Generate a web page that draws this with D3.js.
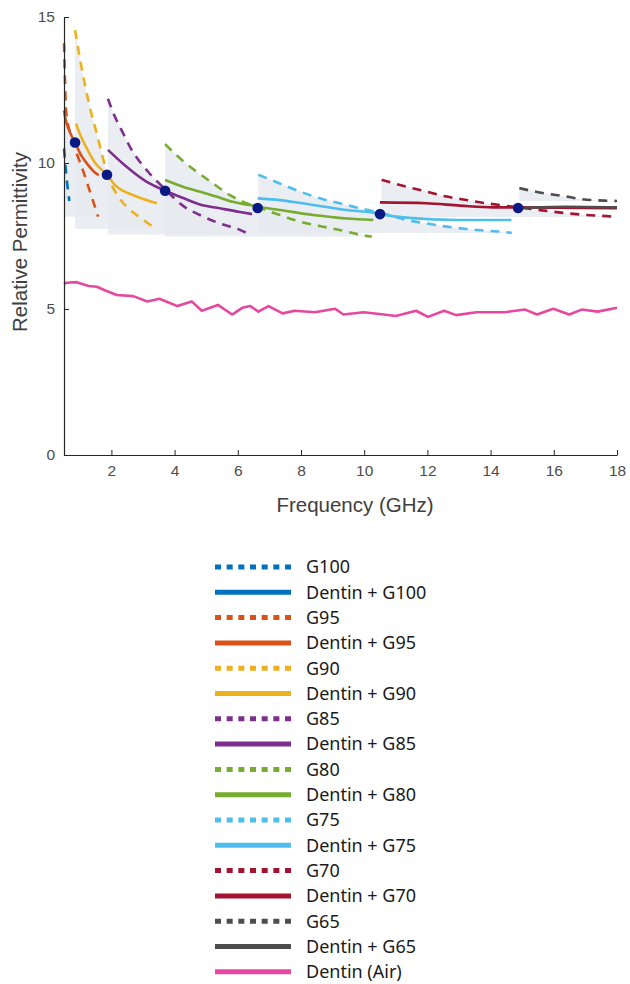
<!DOCTYPE html>
<html>
<head>
<meta charset="utf-8">
<script src="https://cdn.jsdelivr.net/npm/d3@7"></script>
<style>
  body { margin: 0; background: #fff; }
  svg { display: block; }
</style>
</head>
<body>
<svg id="chart" width="630" height="984"></svg>
<script>
// axis ticks
const xTicks = [2, 4, 6, 8, 10, 12, 14, 16, 18];
const yTicks = [0, 5, 10, 15];

// glass series: [GHz, permittivity]
const glassNames = ["G100", "G95", "G90", "G85", "G80", "G75", "G70", "G65"];
const glassColors = ["#0072BD", "#D95319", "#EDB120", "#7E2F8E", "#77AC30", "#4DBEEE", "#A2142F", "#4d4d4d"];

const g100Glass = [[0.5, 10.5], [0.55, 9.85], [0.6, 9.3], [0.67, 8.7]];
const g100Dentin = [];
const g95Glass = [[0.5, 14.1], [0.53, 12.9], [0.56, 11.85], [0.7, 11.0], [0.9, 10.33], [1.06, 9.87], [1.27, 9.19], [1.48, 8.5], [1.58, 8.16]];
const g95Dentin = [[0.5, 11.8], [0.55, 11.5], [0.65, 11.15], [0.85, 10.7], [1.05, 10.25], [1.25, 9.95], [1.45, 9.7], [1.6, 9.58]];
const g90Glass = [[0.85, 14.55], [1.0, 13.6], [1.16, 12.7], [1.32, 11.9], [1.54, 11.0], [1.7, 10.3], [1.95, 9.4], [2.22, 8.85], [2.53, 8.45], [2.96, 8.1], [3.32, 7.82], [3.44, 7.75]];
const g90Dentin = [[0.88, 11.35], [1.0, 11.0], [1.22, 10.5], [1.5, 9.98], [1.86, 9.6], [2.11, 9.25], [2.74, 8.88], [3.44, 8.62]];
const g85Glass = [[1.89, 12.2], [2.11, 11.59], [2.37, 11.02], [2.64, 10.45], [2.9, 10.04], [3.16, 9.7], [3.7, 9.1], [4.27, 8.53], [4.8, 8.22], [5.43, 7.93], [6.07, 7.71], [6.38, 7.55]];
const g85Dentin = [[1.89, 10.45], [2.49, 9.86], [3.12, 9.35], [3.7, 9.05], [4.27, 8.8], [4.8, 8.58], [5.43, 8.45], [6.07, 8.32], [6.45, 8.25]];
const g80Glass = [[3.7, 10.65], [4.17, 10.16], [4.7, 9.7], [5.22, 9.3], [5.75, 8.9], [6.17, 8.67], [6.6, 8.5], [7.33, 8.22], [7.97, 7.99], [8.7, 7.82], [9.34, 7.68], [9.92, 7.53], [10.24, 7.48]];
const g80Dentin = [[3.7, 9.42], [4.26, 9.19], [4.79, 9.02], [5.32, 8.85], [5.84, 8.67], [6.37, 8.56], [6.63, 8.5], [7.33, 8.39], [8.39, 8.22], [9.44, 8.1], [10.29, 8.05]];
const g75Glass = [[6.65, 9.6], [7.33, 9.3], [7.97, 9.02], [8.6, 8.79], [9.23, 8.62], [9.86, 8.45], [10.5, 8.3], [11.34, 8.05], [11.97, 7.93], [12.61, 7.82], [13.24, 7.74], [13.87, 7.68], [14.51, 7.63], [14.67, 7.6]];
const g75Dentin = [[6.63, 8.79], [7.33, 8.73], [8.39, 8.56], [9.44, 8.39], [10.28, 8.3], [10.5, 8.25], [11.4, 8.12], [12.96, 8.05], [14.66, 8.05]];
const g70Glass = [[10.55, 9.42], [11.34, 9.19], [11.97, 9.02], [12.61, 8.85], [13.24, 8.73], [13.87, 8.62], [14.51, 8.53], [15.77, 8.36], [16.4, 8.28], [17.04, 8.22], [17.67, 8.18], [18, 8.15]];
const g70Dentin = [[10.5, 8.65], [11.97, 8.62], [13.03, 8.54], [14.08, 8.48], [14.72, 8.48], [16, 8.47], [18, 8.45]];
const g65Glass = [[14.91, 9.14], [15.6, 8.98], [16.3, 8.87], [16.9, 8.76], [17.6, 8.71], [18, 8.7]];
const g65Dentin = [[14.87, 8.45], [16.4, 8.5], [18, 8.48]];

const glassSeries = [g100Glass, g95Glass, g90Glass, g85Glass, g80Glass, g75Glass, g70Glass, g65Glass];
const dentinSeries = [g100Dentin, g95Dentin, g90Dentin, g85Dentin, g80Dentin, g75Dentin, g70Dentin, g65Dentin];

// matching points (navy dots)
const matchFreq = [0.85, 1.86, 3.7, 6.63, 10.5, 14.87];
const matchValue = [10.7, 9.6, 9.05, 8.46, 8.25, 8.46];

// dentin in air
const airFreq = [0.5, 0.58, 0.9, 1.28, 1.54, 1.79, 2.17, 2.69, 3.14, 3.52, 4.09, 4.54, 4.86, 5.37, 5.82, 6.14, 6.4, 6.65, 6.97, 7.42, 7.8, 8.44, 9.08, 9.34, 9.98, 10.62, 11.0, 11.64, 12.02, 12.53, 12.91, 13.55, 14.45, 15.09, 15.47, 15.98, 16.49, 16.88, 17.39, 18];
const airValue = [5.85, 5.9, 5.92, 5.79, 5.76, 5.64, 5.48, 5.44, 5.26, 5.35, 5.1, 5.26, 4.94, 5.14, 4.81, 5.04, 5.1, 4.91, 5.1, 4.85, 4.94, 4.89, 5.01, 4.81, 4.89, 4.81, 4.76, 4.94, 4.73, 4.94, 4.79, 4.89, 4.89, 4.98, 4.81, 5.01, 4.81, 4.98, 4.91, 5.04];

const legendLabels = [];
glassNames.forEach(g => legendLabels.push({ name: g, dash: true }, { name: "Dentin + " + g, dash: false }));
legendLabels.forEach((d, i) => (d.color = glassColors[Math.floor(i / 2)]));
legendLabels.push({ name: "Dentin (Air)", dash: false, color: "#E5489E" });

const svg = d3.select("#chart");
const margin = { left: 64, top: 17 };
const width = 553;
const height = 438;

const x = d3.scaleLinear().domain([0.5, 18]).range([margin.left, margin.left + width]);
const y = d3.scaleLinear().domain([0, 15]).range([margin.top + height, margin.top]);

const plot = svg.append("g");

// grey bands between each glass curve and its lowest value
const band = d3.area()
  .x(d => x(d[0]))
  .y1(d => y(d[1]))
  .curve(d3.curveMonotoneX);

glassSeries.forEach(s => {
  const low = d3.min(s, d => d[1]);
  plot.append("path")
    .datum(s)
    .attr("d", band.y0(y(low)))
    .attr("fill", "#e6eaee")
    .attr("fill-opacity", 0.85);
});

const line = d3.line()
  .x(d => x(d[0]))
  .y(d => y(d[1]))
  .curve(d3.curveMonotoneX);

glassSeries.forEach((s, i) => {
  plot.append("path")
    .datum(s)
    .attr("d", line)
    .attr("fill", "none")
    .attr("stroke", glassColors[i])
    .attr("stroke-width", 2.6)
    .attr("stroke-dasharray", "9,7");
});

dentinSeries.forEach((s, i) => {
  if (!s.length) return;
  plot.append("path")
    .datum(s)
    .attr("d", line)
    .attr("fill", "none")
    .attr("stroke", glassColors[i])
    .attr("stroke-width", 2.6);
});

const airLine = d3.line()
  .x((d, i) => x(airFreq[i]))
  .y(d => y(d));

plot.append("path")
  .datum(airValue)
  .attr("d", airLine)
  .attr("fill", "none")
  .attr("stroke", "#E5489E")
  .attr("stroke-width", 2.6)
  .attr("stroke-linejoin", "round");

plot.selectAll(".match")
  .data(matchFreq)
  .join("circle")
  .attr("class", "match")
  .attr("cx", d => x(d))
  .attr("cy", (d, i) => y(matchValue[i]))
  .attr("r", 5.3)
  .attr("fill", "#0a1a85");

// axes, MATLAB style ticks pointing inward
const xAxis = svg.append("g")
  .attr("transform", `translate(0,${margin.top + height})`)
  .call(d3.axisBottom(x).tickValues(xTicks).tickSizeInner(-5).tickSizeOuter(0).tickPadding(10));

const yAxis = svg.append("g")
  .attr("transform", `translate(${margin.left},0)`)
  .call(d3.axisLeft(y).tickValues(yTicks).tickSizeInner(-5).tickSizeOuter(0).tickPadding(9));

[xAxis, yAxis].forEach(a => {
  a.select(".domain").attr("stroke", "#262626").attr("stroke-width", 1.2);
  a.selectAll(".tick line").attr("stroke", "#262626");
  a.selectAll(".tick text")
    .attr("fill", "#4d4d4d")
    .attr("font-family", "Liberation Sans, Arial, sans-serif")
    .attr("font-size", 15.5);
});

svg.append("text")
  .attr("x", 355)
  .attr("y", 512)
  .attr("text-anchor", "middle")
  .attr("fill", "#404040")
  .attr("font-family", "Liberation Sans, Arial, sans-serif")
  .attr("font-size", 20.5)
  .text("Frequency (GHz)");

svg.append("text")
  .attr("transform", "translate(27,242) rotate(-90)")
  .attr("text-anchor", "middle")
  .attr("fill", "#404040")
  .attr("font-family", "Liberation Sans, Arial, sans-serif")
  .attr("font-size", 20.5)
  .text("Relative Permittivity");

// legend
const legend = svg.append("g").attr("transform", "translate(215,567)");
const rowGap = 25.3;

const rows = legend.selectAll("g")
  .data(legendLabels)
  .join("g")
  .attr("transform", (d, i) => `translate(0,${i * rowGap})`);

rows.append("line")
  .attr("x1", 0)
  .attr("x2", 76)
  .attr("stroke", d => d.color)
  .attr("stroke-width", 5)
  .attr("stroke-dasharray", d => (d.dash ? "6,5.67" : null));

rows.append("text")
  .attr("x", 91)
  .attr("dy", "0.35em")
  .attr("fill", "#1a1a1a")
  .attr("font-family", "Noto Sans, Open Sans, sans-serif")
  .attr("font-size", 18)
  .text(d => d.name);
</script>
</body>
</html>
